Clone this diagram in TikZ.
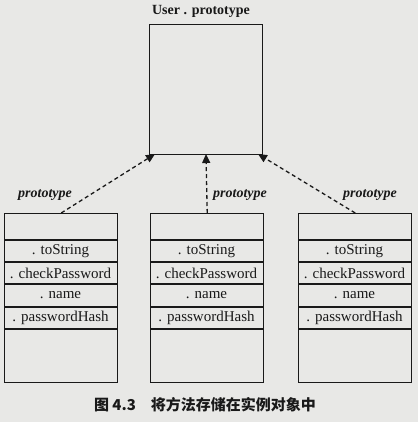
\documentclass[tikz,border=0pt]{standalone}
\usepackage{fontspec}
\setmainfont{Liberation Serif}
\newfontfamily\cjk{Noto Sans CJK SC}
\usetikzlibrary{arrows.meta}
\definecolor{paper}{RGB}{232,232,230}
\definecolor{ink}{RGB}{25,25,25}
\tikzset{
  objbox/.style={draw=ink, line width=1.4pt, fill=paper, inner sep=0pt, minimum width=113pt, minimum height=169pt, anchor=north west},
  protobox/.style={draw=ink, line width=1.4pt, fill=paper, inner sep=0pt, minimum width=113pt, minimum height=130pt, anchor=north west},
  rowtext/.style={font=\fontsize{15}{17}\selectfont, text=ink, inner sep=0pt},
  rowline/.style={draw=ink, line width=1.4pt},
  protolabel/.style={font=\fontsize{14}{16}\selectfont\bfseries\itshape, text=ink, inner sep=0pt},
  protolink/.style={draw=ink, line width=1.3pt, dash pattern=on 4pt off 3pt, -{Triangle[length=9pt,width=8pt]}},
}
\begin{document}
\begin{tikzpicture}[x=1pt,y=-1pt]
\fill[paper] (0,0) rectangle (418,422);
\useasboundingbox (0,0) rectangle (418,422);
% top prototype box
\node[protobox] (P) at (149,24) {};
\node[font=\fontsize{14}{16}\selectfont\bfseries, text=ink, inner sep=0pt] (Ptitle) at (201,11) {User . prototype};
\coordinate (PL) at (155,154);
\coordinate (PM) at (206,154);
\coordinate (PR) at (258,154);
% instance boxes
\foreach \nm/\x in {L/4, M/150, R/298}{
  \node[objbox] (\nm) at (\x,213) {};
  \foreach \yy in {240,262,284,307,329}{
    \draw[rowline] (\x,\yy) -- (\x+113,\yy);
  }
  \node[rowtext] (\nm a) at (\x+56.5,251) {. toString};
  \node[rowtext] (\nm b) at (\x+56.5,273) {. checkPassword};
  \node[rowtext] (\nm c) at (\x+56.5,295.5) {. name};
  \node[rowtext] (\nm d) at (\x+56.5,318) {. passwordHash};
}
% labels
\node[protolabel] (lL) at (45,195) {prototype};
\node[protolabel] (lM) at (240,195) {prototype};
\node[protolabel] (lR) at (370,195) {prototype};
% links
\draw[protolink] (L.north) -- (PL);
\draw[protolink] (M.north) -- (PM);
\draw[protolink] (R.north) -- (PR);
% caption
\node[font=\cjk\bfseries\fontsize{15}{17}\selectfont, text=ink, inner sep=0pt] (cap) at (205,405) {图 4.3\hspace{1em}将方法存储在实例对象中};
\end{tikzpicture}
\end{document}
